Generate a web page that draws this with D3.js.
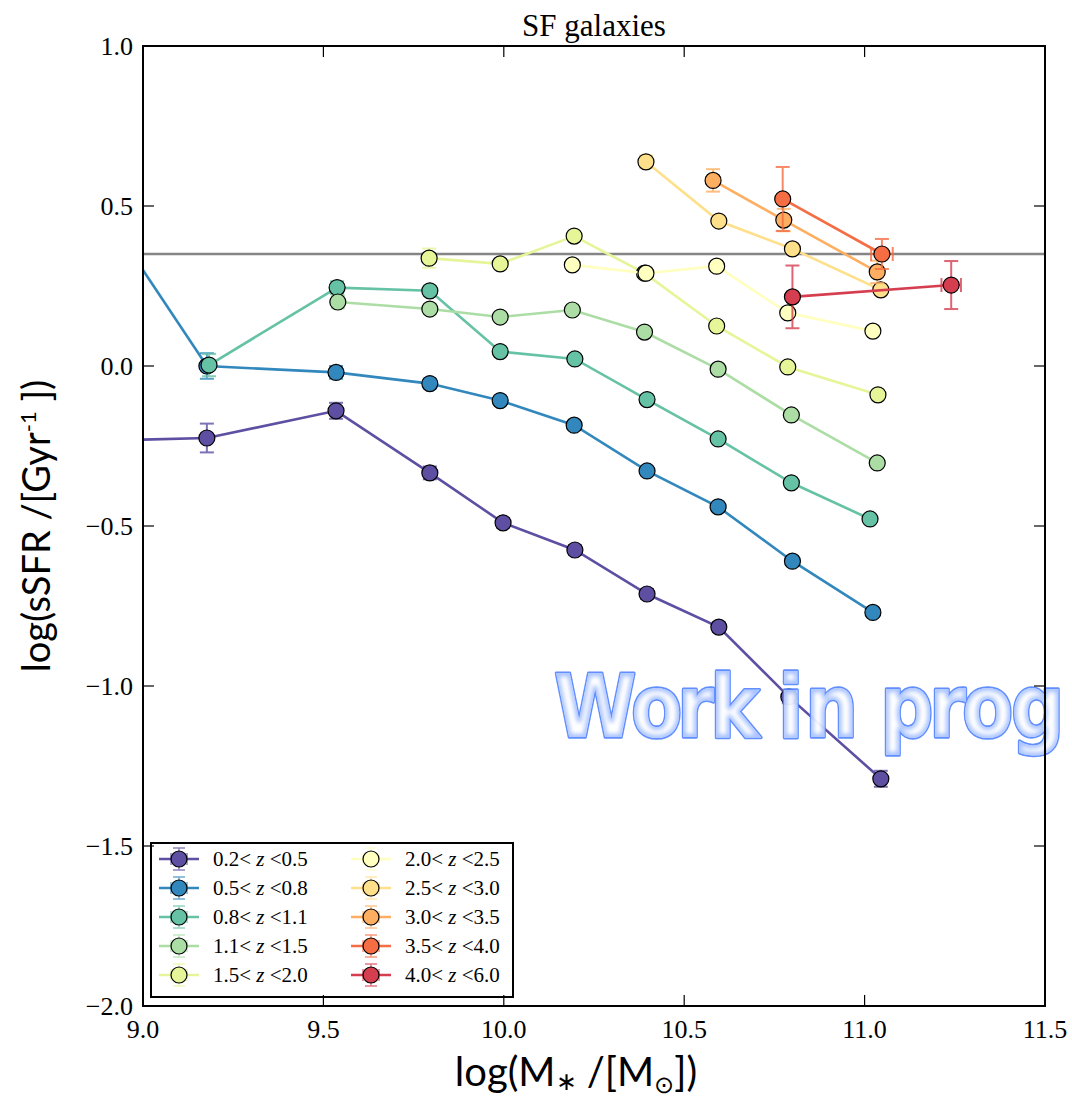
<!DOCTYPE html>
<html><head><meta charset="utf-8">
<script src="https://cdn.jsdelivr.net/npm/d3@7"></script>
<style>html,body{margin:0;padding:0;background:#fff;}</style>
</head><body>
<svg id="c" width="1072" height="1101"></svg>
<script>
// ---- data ----
const seriesLabels = [["0.2","0.5"],["0.5","0.8"],["0.8","1.1"],["1.1","1.5"],["1.5","2.0"],
                      ["2.0","2.5"],["2.5","3.0"],["3.0","3.5"],["3.5","4.0"],["4.0","6.0"]];
const seriesColors = ["#5e4fa2","#3288bd","#66c2a5","#abdda4","#e6f598","#ffffbf","#fee08b","#fdae61","#f46d43","#d53e4f"];

const mass_z1 = [8.83, 9.177, 9.535, 9.795, 9.998, 10.197, 10.397, 10.596, 10.79, 11.045];
const ssfr_z1 = [-0.235, -0.225, -0.14, -0.334, -0.49, -0.575, -0.7125, -0.816, -1.034, -1.29];
const err_z1  = [0.02, 0.045, 0.025, 0.02, 0.015, 0.015, 0.015, 0.015, 0.02, 0.025];

const mass_z2 = [8.83, 9.177, 9.535, 9.795, 9.99, 10.195, 10.397, 10.594, 10.8, 11.023];
const ssfr_z2 = [0.587, 0.0, -0.02, -0.055, -0.108, -0.185, -0.328, -0.44, -0.61, -0.77];
const err_z2  = [0.02, 0.04, 0.02, 0.015, 0.012, 0.012, 0.012, 0.012, 0.012, 0.012];

const mass_z3 = [9.183, 9.538, 9.795, 9.99, 10.197, 10.397, 10.594, 10.797, 11.015];
const ssfr_z3 = [0.003, 0.245, 0.235, 0.045, 0.022, -0.105, -0.228, -0.365, -0.478];
const err_z3  = [0.035, 0.02, 0.015, 0.012, 0.012, 0.012, 0.012, 0.012, 0.012];

const mass_z4 = [9.54, 9.795, 9.99, 10.19, 10.39, 10.594, 10.797, 11.035];
const ssfr_z4 = [0.2, 0.178, 0.153, 0.175, 0.106, -0.01, -0.153, -0.303];
const err_z4  = [0.02, 0.015, 0.012, 0.012, 0.012, 0.012, 0.012, 0.012];

const mass_z5 = [9.793, 9.99, 10.195, 10.39, 10.59, 10.787, 11.037];
const ssfr_z5 = [0.337, 0.319, 0.406, 0.29, 0.125, -0.003, -0.09];
const err_z5  = [0.03, 0.015, 0.012, 0.012, 0.012, 0.012, 0.012];

const mass_z6 = [10.19, 10.394, 10.59, 10.787, 11.023];
const ssfr_z6 = [0.316, 0.29, 0.312, 0.166, 0.109];
const err_z6  = [0.012, 0.012, 0.012, 0.012, 0.012];

const mass_z7 = [10.394, 10.596, 10.8, 11.045];
const ssfr_z7 = [0.638, 0.453, 0.366, 0.238];
const err_z7  = [0.02, 0.015, 0.015, 0.015];

const mass_z8 = [10.58, 10.776, 11.035];
const ssfr_z8 = [0.58, 0.456, 0.294];
const err_z8  = [0.035, 0.035, 0.035];

const mass_z9 = [10.773, 11.048];
const ssfr_z9 = [0.522, 0.35];
const err_z9  = [0.1, 0.047];
const xerr_z9 = [0.0, 0.03];

const mass_z10 = [10.8, 11.24];
const ssfr_z10 = [0.216, 0.253];
const err_z10  = [0.098, 0.075];
const xerr_z10 = [0.0, 0.027];

const refLine = 0.35;
const xTicks = [9.0, 9.5, 10.0, 10.5, 11.0, 11.5];
const yTicks = [1.0, 0.5, 0.0, -0.5, -1.0, -1.5, -2.0];

const seriesData = [
  [mass_z1, ssfr_z1, err_z1, null],
  [mass_z2, ssfr_z2, err_z2, null],
  [mass_z3, ssfr_z3, err_z3, null],
  [mass_z4, ssfr_z4, err_z4, null],
  [mass_z5, ssfr_z5, err_z5, null],
  [mass_z6, ssfr_z6, err_z6, null],
  [mass_z7, ssfr_z7, err_z7, null],
  [mass_z8, ssfr_z8, err_z8, null],
  [mass_z9, ssfr_z9, err_z9, xerr_z9],
  [mass_z10, ssfr_z10, err_z10, xerr_z10]
];

// ---- layout ----
const L = 143, R = 1045, T = 46, B = 1006;
const svg = d3.select("#c");
const x = d3.scaleLinear().domain([9.0, 11.5]).range([L, R]);
const y = d3.scaleLinear().domain([-2.0, 1.0]).range([B, T]);
const serif = "'Liberation Serif', 'DejaVu Serif', serif";
const sans = "Lato, 'Open Sans', sans-serif";

const defs = svg.append("defs");
defs.append("clipPath").attr("id","clip").append("rect")
  .attr("x", L).attr("y", T).attr("width", R-L).attr("height", B-T);
defs.append("filter").attr("id","glow").attr("x","-10%").attr("y","-30%").attr("width","120%").attr("height","160%")
  .append("feGaussianBlur").attr("stdDeviation", 2.2);
defs.append("filter").attr("id","soft").attr("x","-10%").attr("y","-30%").attr("width","120%").attr("height","160%")
  .append("feGaussianBlur").attr("stdDeviation", 0.6);

const plot = svg.append("g").attr("clip-path","url(#clip)");

// reference horizontal line
plot.append("line").attr("x1", L).attr("x2", R).attr("y1", y(refLine)).attr("y2", y(refLine))
  .attr("stroke", "#858585").attr("stroke-width", 2.6);

const line = d3.line().x(d => x(d[0])).y(d => y(d[1]));
const cap = 7;

seriesData.forEach((s, i) => {
  const [xs, ys, es, xes] = s;
  const col = seriesColors[i];
  const pts = xs.map((v, j) => [v, ys[j], es[j], xes ? xes[j] : 0]);
  const g = plot.append("g");
  g.append("path").datum(pts).attr("d", line).attr("fill","none")
    .attr("stroke", col).attr("stroke-width", 2.6);
  const eb = g.append("g").attr("stroke", col).attr("stroke-width", 2).attr("opacity", 0.8);
  pts.forEach(p => {
    const cx = x(p[0]), cy = y(p[1]);
    const y1 = y(p[1] + p[2]), y2 = y(p[1] - p[2]);
    eb.append("line").attr("x1", cx).attr("x2", cx).attr("y1", y1).attr("y2", y2);
    eb.append("line").attr("x1", cx-cap).attr("x2", cx+cap).attr("y1", y1).attr("y2", y1);
    eb.append("line").attr("x1", cx-cap).attr("x2", cx+cap).attr("y1", y2).attr("y2", y2);
    if (p[3] > 0) {
      const x1 = x(p[0]-p[3]), x2 = x(p[0]+p[3]);
      eb.append("line").attr("x1", x1).attr("x2", x2).attr("y1", cy).attr("y2", cy);
      eb.append("line").attr("x1", x1).attr("x2", x1).attr("y1", cy-cap).attr("y2", cy+cap);
      eb.append("line").attr("x1", x2).attr("x2", x2).attr("y1", cy-cap).attr("y2", cy+cap);
    }
  });
  g.selectAll("circle").data(pts).join("circle")
    .attr("cx", d => x(d[0])).attr("cy", d => y(d[1])).attr("r", 8)
    .attr("fill", col).attr("stroke", "#000").attr("stroke-width", 1.2);
});

// ---- legend ----
const lg = svg.append("g");
lg.append("rect").attr("x", 151).attr("y", 843).attr("width", 362).attr("height", 154)
  .attr("fill", "#fff").attr("stroke", "#000").attr("stroke-width", 2);
seriesLabels.forEach((lab, i) => {
  const col = seriesColors[i];
  const cxm = i < 5 ? 179 : 371;
  const cy = 859 + (i % 5) * 29;
  const e = lg.append("g");
  e.append("line").attr("x1", cxm-20).attr("x2", cxm+20).attr("y1", cy).attr("y2", cy)
    .attr("stroke", col).attr("stroke-width", 2.6);
  const eb = e.append("g").attr("stroke", col).attr("stroke-width", 1.5).attr("opacity", 0.7);
  eb.append("line").attr("x1", cxm).attr("x2", cxm).attr("y1", cy-11).attr("y2", cy+11);
  eb.append("line").attr("x1", cxm-6).attr("x2", cxm+6).attr("y1", cy-11).attr("y2", cy-11);
  eb.append("line").attr("x1", cxm-6).attr("x2", cxm+6).attr("y1", cy+11).attr("y2", cy+11);
  eb.append("line").attr("x1", cxm-8).attr("x2", cxm-8).attr("y1", cy-6).attr("y2", cy+6);
  eb.append("line").attr("x1", cxm+8).attr("x2", cxm+8).attr("y1", cy-6).attr("y2", cy+6);
  e.append("circle").attr("cx", cxm).attr("cy", cy).attr("r", 8)
    .attr("fill", col).attr("stroke", "#000").attr("stroke-width", 1.2);
  const t = e.append("text").attr("x", cxm + 34).attr("y", cy + 7)
    .attr("font-family", serif).attr("font-size", 21).attr("fill", "#000");
  t.append("tspan").text(lab[0] + "< ");
  t.append("tspan").attr("font-style", "italic").text("z");
  t.append("tspan").text(" <" + lab[1]);
});

// ---- watermark ----
const wmText = "Work in progress";
const wmSx = 0.85;
const wmX = [554, 631, 677, 710, 760, 778, 805, 855, 880, 929, 962, 1011, 1068, 1102, 1150, 1192]
  .map(v => (v / wmSx).toFixed(1)).join(" ");
function wmNode(parent) {
  return parent.append("text").attr("x", wmX).attr("y", 0)
    .attr("transform", `translate(0,737) scale(${wmSx},1)`)
    .attr("font-family", "'DejaVu Sans', Verdana, sans-serif")
    .attr("font-weight", "bold").attr("font-size", 88).text(wmText);
}
const wmClip = defs.append("clipPath").attr("id", "wmclip");
wmNode(wmClip);
const wm = svg.append("g").attr("opacity", 0.95);
wmNode(wm).attr("fill", "none").attr("stroke", "#5a8aff").attr("stroke-width", 3.5)
  .attr("stroke-linejoin", "round").attr("filter", "url(#soft)");
wmNode(wm).attr("fill", "#ffffff").attr("stroke", "none");
wm.append("g").attr("clip-path", "url(#wmclip)")
  .call(g => wmNode(g).attr("fill", "none").attr("stroke", "#7aa3ff").attr("stroke-width", 6)
    .attr("stroke-linejoin", "round").attr("filter", "url(#glow)").attr("opacity", 0.7));

// ---- frame & axes ----
const ax = svg.append("g");
xTicks.forEach(v => {
  ax.append("line").attr("x1", x(v)).attr("x2", x(v)).attr("y1", B).attr("y2", B-11).attr("stroke","#000").attr("stroke-width",1.2);
  ax.append("line").attr("x1", x(v)).attr("x2", x(v)).attr("y1", T).attr("y2", T+11).attr("stroke","#000").attr("stroke-width",1.2);
  ax.append("text").attr("x", x(v)).attr("y", B + 32).attr("text-anchor","middle")
    .attr("font-family", serif).attr("font-size", 26).text(d3.format(".1f")(v));
});
yTicks.forEach(v => {
  ax.append("line").attr("x1", L).attr("x2", L+11).attr("y1", y(v)).attr("y2", y(v)).attr("stroke","#000").attr("stroke-width",1.2);
  ax.append("line").attr("x1", R).attr("x2", R-11).attr("y1", y(v)).attr("y2", y(v)).attr("stroke","#000").attr("stroke-width",1.2);
  ax.append("text").attr("x", L - 10).attr("y", y(v) + 9).attr("text-anchor","end")
    .attr("font-family", serif).attr("font-size", 26).text(d3.format(".1f")(v).replace("-", "\u2212"));
});
ax.append("rect").attr("x", L).attr("y", T).attr("width", R-L).attr("height", B-T)
  .attr("fill","none").attr("stroke","#000").attr("stroke-width", 2);

// title
svg.append("text").attr("x", (L+R)/2).attr("y", 36).attr("text-anchor","middle")
  .attr("font-family", serif).attr("font-size", 31).text("SF galaxies");

// x label
const xl = svg.append("text").attr("x", 576).attr("y", 1086).attr("text-anchor","middle")
  .attr("font-family", sans).attr("font-size", 40);
xl.append("tspan").text("log(M");
xl.append("tspan").attr("font-size", 25).attr("dy", 4).text("\u2217");
xl.append("tspan").attr("dy", -4).text(" /[M");
xl.append("tspan").attr("font-size", 24).attr("dy", 7).text("\u2299");
xl.append("tspan").attr("dy", -7).text("])");

// y label
const yl = svg.append("text").attr("transform", `translate(50,${(T+B)/2}) rotate(-90)`)
  .attr("text-anchor","middle").attr("font-family", sans).attr("font-size", 38);
yl.append("tspan").text("log(sSFR /[Gyr");
yl.append("tspan").attr("font-size", 22).attr("dy", -14).text("-1");
yl.append("tspan").attr("dy", 14).text(" ])");
</script>
</body></html>
